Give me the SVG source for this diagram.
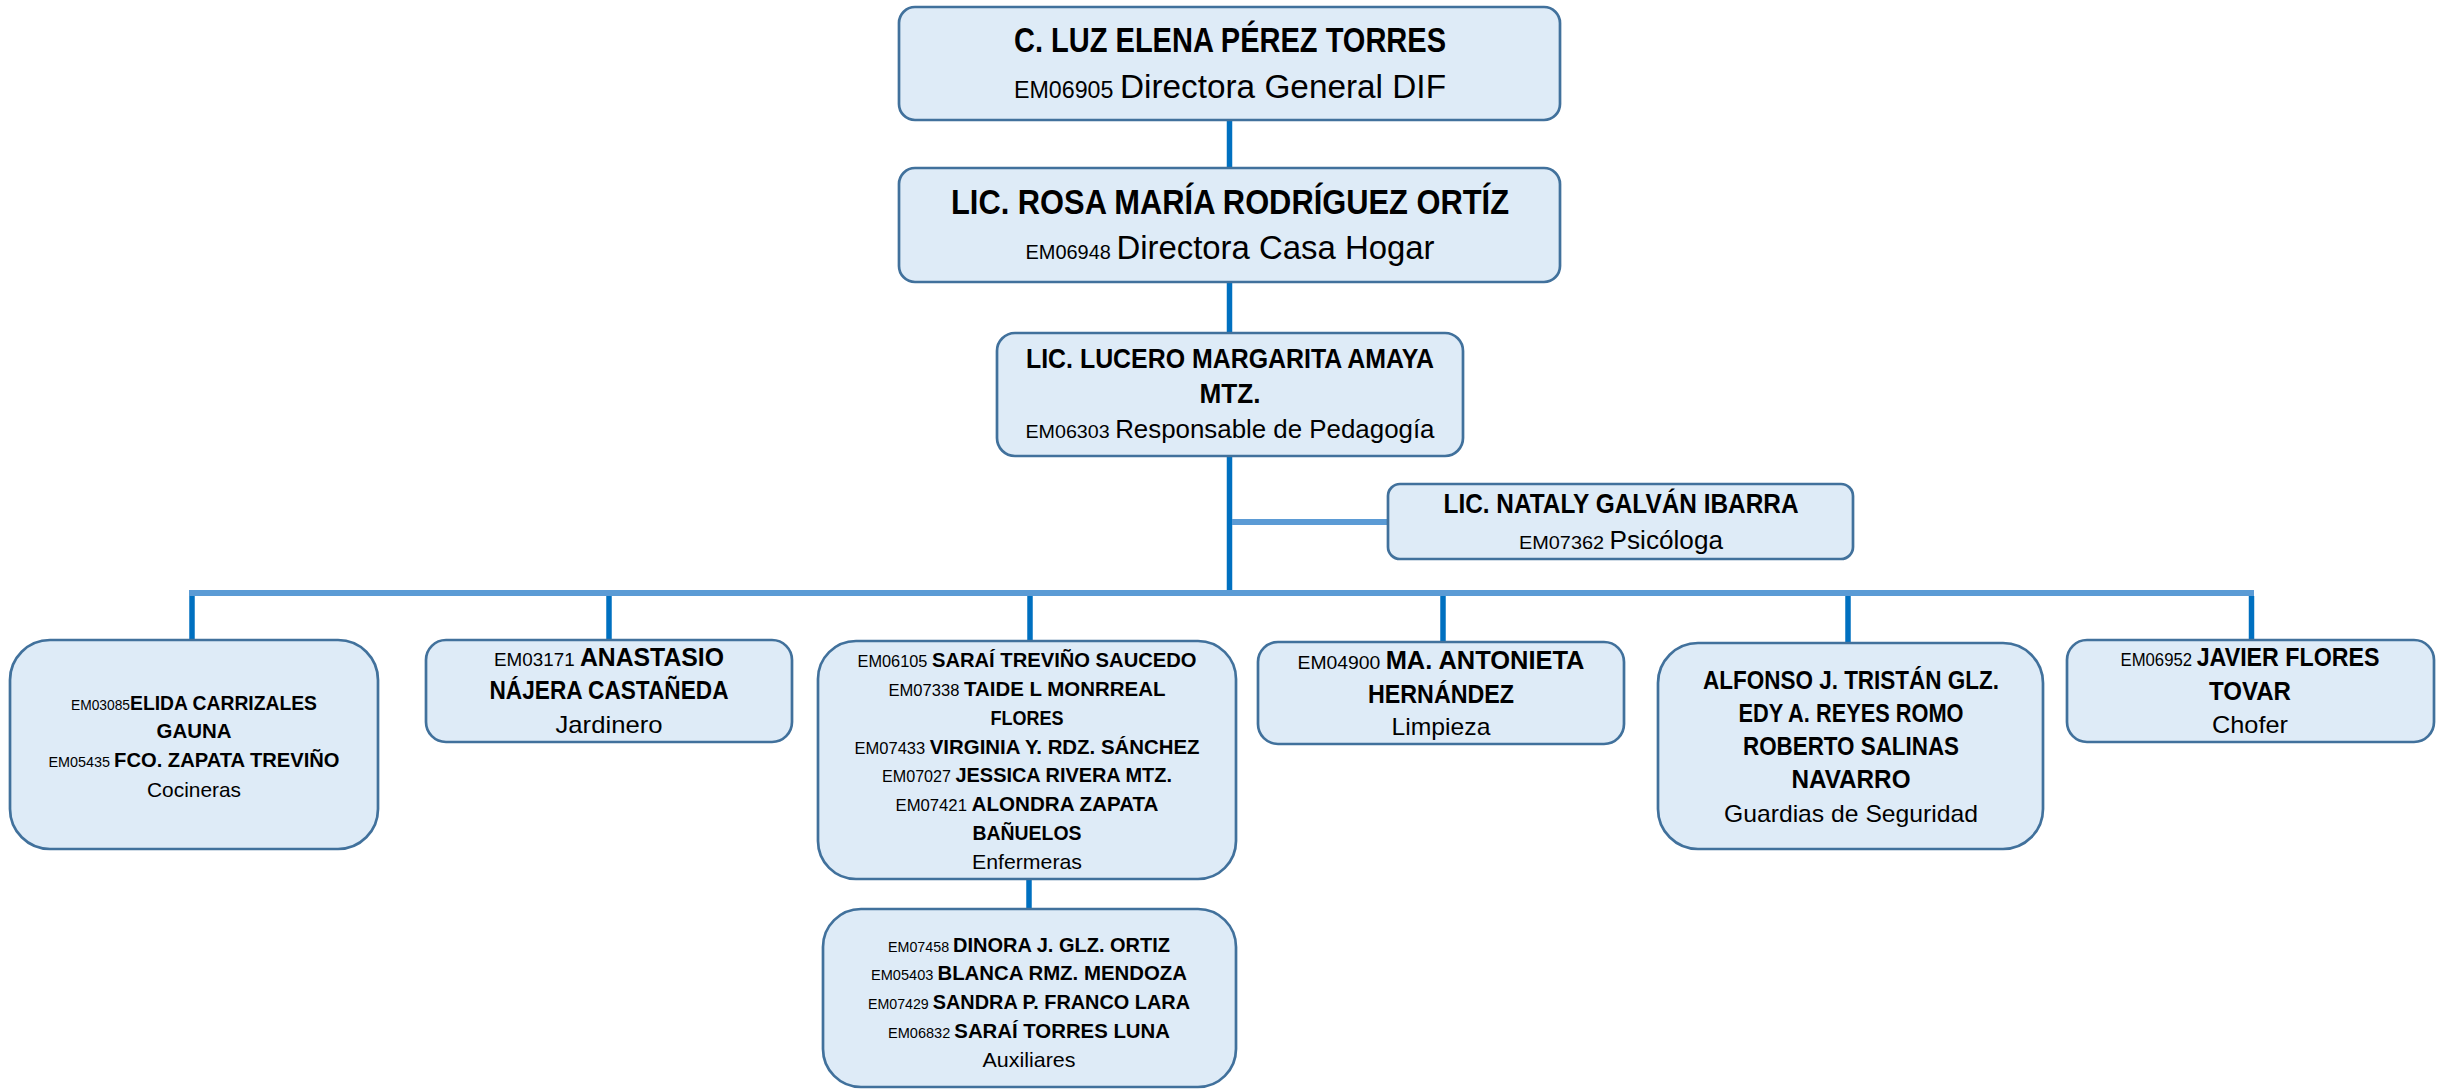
<svg xmlns="http://www.w3.org/2000/svg" width="2447" height="1089" viewBox="0 0 2447 1089">
<style>
.box{fill:#DEEBF7;stroke:#41719C;stroke-width:2.7}
.v{stroke:#0070C0;stroke-width:5.5;fill:none}
.h{stroke:#5B9BD5;stroke-width:6;fill:none}
text{font-family:'Liberation Sans',Arial,sans-serif;fill:#000;text-anchor:middle}
.b{font-weight:bold}
</style>
<rect width="2447" height="1089" fill="#fff"/>
<g id="connectors">
<line class="v" x1="1229.5" y1="120" x2="1229.5" y2="168"/>
<line class="v" x1="1229.5" y1="282" x2="1229.5" y2="333"/>
<line class="v" x1="1229.5" y1="456" x2="1229.5" y2="591"/>
<line class="h" x1="1232" y1="522" x2="1389" y2="522"/>
<line class="v" x1="192" y1="596" x2="192" y2="640"/>
<line class="v" x1="609" y1="596" x2="609" y2="640"/>
<line class="v" x1="1030" y1="596" x2="1030" y2="641"/>
<line class="v" x1="1443" y1="596" x2="1443" y2="642"/>
<line class="v" x1="1848" y1="596" x2="1848" y2="643"/>
<line class="v" x1="2251.5" y1="596" x2="2251.5" y2="640"/>
<line class="h" x1="189" y1="593" x2="2254" y2="593"/>
<line class="v" x1="1029" y1="879" x2="1029" y2="909"/>
</g>
<g id="n1">
<rect class="box" x="899" y="7" width="661" height="113" rx="16"/>
<text class="b" x="1230" y="52" font-size="35" textLength="432" lengthAdjust="spacingAndGlyphs">C. LUZ ELENA PÉREZ TORRES</text>
<text x="1230" y="98" font-size="33" textLength="432" lengthAdjust="spacingAndGlyphs"><tspan font-size="23">EM06905 </tspan>Directora General DIF</text>
</g>
<g id="n2">
<rect class="box" x="899" y="168" width="661" height="114" rx="16"/>
<text class="b" x="1230" y="214" font-size="35" textLength="558" lengthAdjust="spacingAndGlyphs">LIC. ROSA MARÍA RODRÍGUEZ ORTÍZ</text>
<text x="1230" y="259" font-size="33" textLength="409" lengthAdjust="spacingAndGlyphs"><tspan font-size="20">EM06948 </tspan>Directora Casa Hogar</text>
</g>
<g id="n3">
<rect class="box" x="997" y="333" width="466" height="123" rx="18"/>
<text class="b" x="1230" y="368" font-size="27" textLength="408" lengthAdjust="spacingAndGlyphs">LIC. LUCERO MARGARITA AMAYA</text>
<text class="b" x="1230" y="403" font-size="27" textLength="61" lengthAdjust="spacingAndGlyphs">MTZ.</text>
<text x="1230" y="438" font-size="25" textLength="409" lengthAdjust="spacingAndGlyphs"><tspan font-size="19">EM06303 </tspan>Responsable de Pedagogía</text>
</g>
<g id="n4">
<rect class="box" x="1388" y="484" width="465" height="75" rx="12"/>
<text class="b" x="1621" y="513" font-size="27" textLength="355" lengthAdjust="spacingAndGlyphs">LIC. NATALY GALVÁN IBARRA</text>
<text x="1621" y="549" font-size="25" textLength="204" lengthAdjust="spacingAndGlyphs"><tspan font-size="19">EM07362 </tspan>Psicóloga</text>
</g>
<g id="n5">
<rect class="box" x="10" y="640" width="368" height="209" rx="40"/>
<text class="b" x="194" y="710" font-size="21" textLength="246" lengthAdjust="spacingAndGlyphs"><tspan font-size="15" font-weight="normal">EM03085</tspan>ELIDA CARRIZALES</text>
<text class="b" x="194" y="738" font-size="21" textLength="75" lengthAdjust="spacingAndGlyphs">GAUNA</text>
<text class="b" x="194" y="767" font-size="21" textLength="291" lengthAdjust="spacingAndGlyphs"><tspan font-size="15" font-weight="normal">EM05435 </tspan>FCO. ZAPATA TREVIÑO</text>
<text x="194" y="797" font-size="21" textLength="94" lengthAdjust="spacingAndGlyphs">Cocineras</text>
</g>
<g id="n6">
<rect class="box" x="426" y="640" width="366" height="102" rx="20"/>
<text class="b" x="609" y="666" font-size="25" textLength="230" lengthAdjust="spacingAndGlyphs"><tspan font-size="19" font-weight="normal">EM03171 </tspan>ANASTASIO</text>
<text class="b" x="609" y="699" font-size="25" textLength="239" lengthAdjust="spacingAndGlyphs">NÁJERA CASTAÑEDA</text>
<text x="609" y="733" font-size="24" textLength="107" lengthAdjust="spacingAndGlyphs">Jardinero</text>
</g>
<g id="n7">
<rect class="box" x="818" y="641" width="418" height="238" rx="38"/>
<text class="b" x="1027" y="667" font-size="21" textLength="339" lengthAdjust="spacingAndGlyphs"><tspan font-size="17" font-weight="normal">EM06105 </tspan>SARAÍ TREVIÑO SAUCEDO</text>
<text class="b" x="1027" y="696" font-size="21" textLength="277" lengthAdjust="spacingAndGlyphs"><tspan font-size="17" font-weight="normal">EM07338 </tspan>TAIDE L MONRREAL</text>
<text class="b" x="1027" y="725" font-size="21" textLength="73" lengthAdjust="spacingAndGlyphs">FLORES</text>
<text class="b" x="1027" y="754" font-size="21" textLength="345" lengthAdjust="spacingAndGlyphs"><tspan font-size="17" font-weight="normal">EM07433 </tspan>VIRGINIA Y. RDZ. SÁNCHEZ</text>
<text class="b" x="1027" y="782" font-size="21" textLength="290" lengthAdjust="spacingAndGlyphs"><tspan font-size="17" font-weight="normal">EM07027 </tspan>JESSICA RIVERA MTZ.</text>
<text class="b" x="1027" y="811" font-size="21" textLength="263" lengthAdjust="spacingAndGlyphs"><tspan font-size="17" font-weight="normal">EM07421 </tspan>ALONDRA ZAPATA</text>
<text class="b" x="1027" y="840" font-size="21" textLength="109" lengthAdjust="spacingAndGlyphs">BAÑUELOS</text>
<text x="1027" y="869" font-size="21" textLength="110" lengthAdjust="spacingAndGlyphs">Enfermeras</text>
</g>
<g id="n8">
<rect class="box" x="1258" y="642" width="366" height="102" rx="20"/>
<text class="b" x="1441" y="669" font-size="25" textLength="287" lengthAdjust="spacingAndGlyphs"><tspan font-size="19" font-weight="normal">EM04900 </tspan>MA. ANTONIETA</text>
<text class="b" x="1441" y="703" font-size="25" textLength="146" lengthAdjust="spacingAndGlyphs">HERNÁNDEZ</text>
<text x="1441" y="735" font-size="24" textLength="99" lengthAdjust="spacingAndGlyphs">Limpieza</text>
</g>
<g id="n9">
<rect class="box" x="1658" y="643" width="385" height="206" rx="40"/>
<text class="b" x="1851" y="689" font-size="25" textLength="296" lengthAdjust="spacingAndGlyphs">ALFONSO J. TRISTÁN GLZ.</text>
<text class="b" x="1851" y="722" font-size="25" textLength="225" lengthAdjust="spacingAndGlyphs">EDY A. REYES ROMO</text>
<text class="b" x="1851" y="755" font-size="25" textLength="216" lengthAdjust="spacingAndGlyphs">ROBERTO SALINAS</text>
<text class="b" x="1851" y="788" font-size="25" textLength="119" lengthAdjust="spacingAndGlyphs">NAVARRO</text>
<text x="1851" y="822" font-size="24" textLength="254" lengthAdjust="spacingAndGlyphs">Guardias de Seguridad</text>
</g>
<g id="n10">
<rect class="box" x="2067" y="640" width="367" height="102" rx="20"/>
<text class="b" x="2250" y="666" font-size="25" textLength="259" lengthAdjust="spacingAndGlyphs"><tspan font-size="18" font-weight="normal">EM06952 </tspan>JAVIER FLORES</text>
<text class="b" x="2250" y="700" font-size="25" textLength="82" lengthAdjust="spacingAndGlyphs">TOVAR</text>
<text x="2250" y="733" font-size="24" textLength="76" lengthAdjust="spacingAndGlyphs">Chofer</text>
</g>
<g id="n11">
<rect class="box" x="823" y="909" width="413" height="178" rx="38"/>
<text class="b" x="1029" y="952" font-size="21" textLength="282" lengthAdjust="spacingAndGlyphs"><tspan font-size="15" font-weight="normal">EM07458 </tspan>DINORA J. GLZ. ORTIZ</text>
<text class="b" x="1029" y="980" font-size="21" textLength="316" lengthAdjust="spacingAndGlyphs"><tspan font-size="15" font-weight="normal">EM05403 </tspan>BLANCA RMZ. MENDOZA</text>
<text class="b" x="1029" y="1009" font-size="21" textLength="322" lengthAdjust="spacingAndGlyphs"><tspan font-size="15" font-weight="normal">EM07429 </tspan>SANDRA P. FRANCO LARA</text>
<text class="b" x="1029" y="1038" font-size="21" textLength="282" lengthAdjust="spacingAndGlyphs"><tspan font-size="15" font-weight="normal">EM06832 </tspan>SARAÍ TORRES LUNA</text>
<text x="1029" y="1067" font-size="21" textLength="93" lengthAdjust="spacingAndGlyphs">Auxiliares</text>
</g>
</svg>
